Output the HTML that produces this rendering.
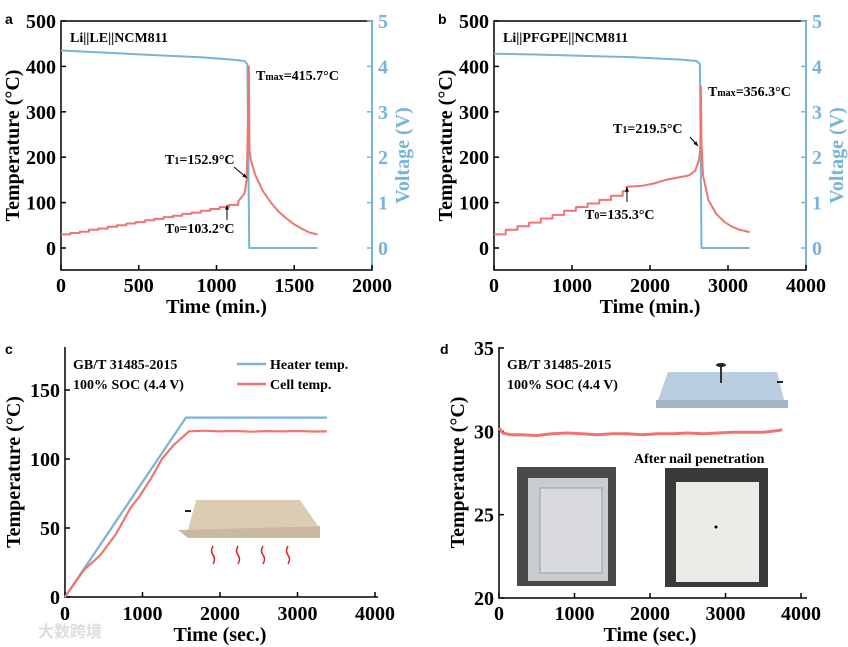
<!DOCTYPE html>
<html><head><meta charset="utf-8">
<style>
body{margin:0;background:#fff;}
svg{display:block;font-family:"Liberation Serif",serif;font-weight:bold;}
.sans{font-family:"Liberation Sans",sans-serif;}
</style></head>
<body>
<svg id="fig" width="848" height="647" viewBox="0 0 848 647" xmlns="http://www.w3.org/2000/svg"></svg>
<script>
// ---- Panel a data ----
const aTempT = [0,60,120,180,240,300,360,420,480,540,600,660,720,780,840,900,960,1020,1080,1140,1180,1195,1203,1208,1212,1220,1250,1300,1350,1400,1450,1500,1550,1600,1650];
const aTempV = [30,33,36,40,43,47,50,54,57,61,64,68,71,75,78,82,86,90,95,103,120,152,300,400,215,195,160,125,100,80,65,52,42,34,30];
const aVoltT = [0,300,600,900,1100,1180,1198,1205,1210,1650];
const aVoltV = [4.35,4.3,4.25,4.2,4.15,4.12,4.05,2.0,0,0];
// ---- Panel b data ----
const bTempT = [0,150,300,450,600,750,900,1050,1200,1350,1500,1650,1700,1900,2050,2200,2350,2500,2580,2630,2645,2652,2660,2680,2750,2850,2950,3050,3150,3280];
const bTempV = [30,40,48,56,65,73,82,90,98,106,115,125,135,137,142,150,155,160,170,195,219,356,230,160,105,75,58,47,40,35];
const bVoltT = [0,600,1200,1800,2400,2600,2640,2650,2660,3280];
const bVoltV = [4.28,4.26,4.23,4.2,4.15,4.12,4.05,2,0,0];
// ---- Panel c data ----
const cHeatT = [0,1560,3380];
const cHeatV = [0,130,130];
const cCellT = [0,250,450,650,850,950,1100,1250,1400,1600,1800,2000,2200,2400,2600,2800,3000,3200,3380];
const cCellV = [0,20,30,45,65,72,85,100,110,120,120.5,120,120.3,119.8,120.2,120,120.3,119.9,120];
// ---- Panel d data ----
const dCellT = [0,50,150,300,500,700,900,1100,1300,1500,1700,1900,2100,2300,2500,2700,2900,3100,3300,3500,3700,3750];
const dCellV = [30.2,29.9,29.8,29.8,29.75,29.85,29.9,29.85,29.8,29.85,29.85,29.8,29.85,29.85,29.9,29.85,29.9,29.95,29.95,29.95,30.05,30.1];

const NS="http://www.w3.org/2000/svg";
const svg=document.getElementById('fig');
function mk(tag,attrs,parent){const e=document.createElementNS(NS,tag);for(const k in attrs)e.setAttribute(k,attrs[k]);(parent||svg).appendChild(e);return e;}
function txt(s,x,y,size,fill,anchor,parent){const t=mk('text',{x:x,y:y,'font-size':size,fill:fill||'#000','text-anchor':anchor||'middle'},parent);t.textContent=s;return t;}
function scale(d0,d1,p0,p1){return v=>p0+(v-d0)*(p1-p0)/(d1-d0);}
function line(xs,ys,sx,sy,color,w,g){let d='';xs.forEach((x,i)=>{d+=(i?'L':'M')+sx(x).toFixed(1)+' '+sy(ys[i]).toFixed(1);});return mk('path',{d:d,fill:'none',stroke:color,'stroke-width':w||2,'stroke-linejoin':'round'},g);}
function stepLine(xs,ys,sx,sy,color,w,g,stepUntil){let d='';xs.forEach((x,i)=>{if(i===0){d+='M'+sx(x)+' '+sy(ys[i]);return;}
 if(x<=stepUntil){d+='H'+sx(x).toFixed(1)+'V'+sy(ys[i]).toFixed(1);}else d+='L'+sx(x).toFixed(1)+' '+sy(ys[i]).toFixed(1);});
 return mk('path',{d:d,fill:'none',stroke:color,'stroke-width':w||2,'stroke-linejoin':'round'},g);}

const RED='#f07470', BLUE='#78b4d6';

function panelAB(cfg){
 const g=mk('g',{});
 
 
 const x0=cfg.x0,x1=cfg.x1,yt=21,yb=270;
 const sx=scale(0,cfg.xmax,x0,x1), sy=scale(0,500,248,21), sv=scale(0,5,248,21);
 mk('rect',{x:x0,y:yt,width:x1-x0,height:yb-yt,fill:'none',stroke:'#000','stroke-width':1.5},g);
 mk('line',{x1:x1,y1:yt,x2:x1,y2:yb,stroke:BLUE,'stroke-width':2},g);
 [0,100,200,300,400,500].forEach(v=>{const y=sy(v);mk('line',{x1:x0,y1:y,x2:x0+5,y2:y,stroke:'#000','stroke-width':1.5},g);txt(String(v),x0-5,y+7,20,'#000','end',g);});
 [0,1,2,3,4,5].forEach(v=>{const y=sv(v);mk('line',{x1:x1-5,y1:y,x2:x1,y2:y,stroke:BLUE,'stroke-width':1.5},g);txt(String(v),x1+6,y+7,20,BLUE,'start',g);});
 cfg.xt.forEach(v=>{const x=sx(v);mk('line',{x1:x,y1:yb,x2:x,y2:yb-5,stroke:'#000','stroke-width':1.5},g);txt(String(v),x,yb+22,20,'#000','middle',g);});
 txt(cfg.xlabel,(x0+x1)/2,yb+43,20,'#000','middle',g);
 const yl=txt('Temperature (°C)',0,0,20,'#000','middle',g);yl.setAttribute('transform',`translate(${x0-42},${(yt+yb)/2}) rotate(-90)`);
 const vl=txt('Voltage (V)',0,0,20,BLUE,'middle',g);vl.setAttribute('transform',`translate(${x1+37},${(yt+yb)/2+10}) rotate(-90)`);
 line(cfg.vT,cfg.vV,sx,sv,BLUE,2,g);
 stepLine(cfg.tT,cfg.tV,sx,sy,RED,2,g,cfg.stepUntil);
 txt(cfg.title,x0+9,yt+21,14,'#000','start',g);
 cfg.ann(g,sx,sy);
 txt(cfg.letter,x0-56,yt+3,14,'#000','start',g).setAttribute('class','sans');
 return g;
}
function arrow(g,x1,y1,x2,y2){mk('line',{x1:x1,y1:y1,x2:x2,y2:y2,stroke:'#000','stroke-width':1},g);
 const a=Math.atan2(y2-y1,x2-x1),L=5;mk('path',{d:`M${x2} ${y2}L${x2-L*Math.cos(a-0.4)} ${y2-L*Math.sin(a-0.4)}L${x2-L*Math.cos(a+0.4)} ${y2-L*Math.sin(a+0.4)}Z`,fill:'#000'},g);}
function sub(g,main,subs,rest,x,y){const t=mk('text',{x:x,y:y,'font-size':14,fill:'#000'},g);
 const a=mk('tspan',{},t);a.textContent=main;const b=mk('tspan',{'font-size':10},t);b.textContent=subs;const c=mk('tspan',{'font-size':14},t);c.textContent=rest;return t;}

panelAB({name:'panel-a',letter:'a',x0:61,x1:372,xmax:2000,xt:[0,500,1000,1500,2000],xlabel:'Time (min.)',title:'Li||LE||NCM811',
 tT:aTempT,tV:aTempV,vT:aVoltT,vV:aVoltV,stepUntil:1150,
 ann:(g,sx,sy)=>{sub(g,'T','max','=415.7°C',256,80);sub(g,'T','1','=152.9°C',165,164);sub(g,'T','0','=103.2°C',165,233);
  arrow(g,234,167,247,178);arrow(g,227,220,227,205);}});
panelAB({name:'panel-b',letter:'b',x0:494,x1:806,xmax:4000,xt:[0,1000,2000,3000,4000],xlabel:'Time (min.)',title:'Li||PFGPE||NCM811',
 tT:bTempT,tV:bTempV,vT:bVoltT,vV:bVoltV,stepUntil:1700,
 ann:(g,sx,sy)=>{sub(g,'T','max','=356.3°C',708,96);sub(g,'T','1','=219.5°C',613,133);sub(g,'T','0','=135.3°C',585,219);
  arrow(g,690,137,698,146);arrow(g,627,202,627,187);}});

(function(){
 const g=mk('g',{});
 
 
 const x0=65,x1=375,yt=347,yb=597;
 const sx=scale(0,4000,x0,x1), sy=scale(0,150,597,390);
 mk('path',{d:`M${x0} ${yt}V${yb}H${x1+3}`,fill:'none',stroke:'#000','stroke-width':1.5},g);
 [0,50,100,150].forEach(v=>{const y=sy(v);mk('line',{x1:x0,y1:y,x2:x0+5,y2:y,stroke:'#000','stroke-width':1.5},g);txt(String(v),x0-5,y+7,20,'#000','end',g);});
 [0,1000,2000,3000,4000].forEach(v=>{const x=sx(v);mk('line',{x1:x,y1:yb,x2:x,y2:yb-5,stroke:'#000','stroke-width':1.5},g);txt(String(v),x,yb+23,20,'#000','middle',g);});
 txt('Time (sec.)',(x0+x1)/2,yb+44,20,'#000','middle',g);
 const yl=txt('Temperature (°C)',0,0,20,'#000','middle',g);yl.setAttribute('transform',`translate(${x0-45},${(yt+yb)/2}) rotate(-90)`);
 line(cHeatT,cHeatV,sx,sy,BLUE,2.2,g);
 line(cCellT,cCellV,sx,sy,RED,2.2,g);
 txt('GB/T 31485-2015',73,369,14,'#000','start',g);
 txt('100% SOC (4.4 V)',73,389,14,'#000','start',g);
 const le=mk('g',{},g);
 mk('line',{x1:237,y1:364,x2:266,y2:364,stroke:BLUE,'stroke-width':2.5},le);txt('Heater temp.',270,369,14,'#000','start',le);
 mk('line',{x1:237,y1:384,x2:266,y2:384,stroke:RED,'stroke-width':2.5},le);txt('Cell temp.',270,389,14,'#000','start',le);
 const ins=mk('g',{},g);
 mk('path',{d:'M196 500L300 500L318 526L188 530Z',fill:'#dcccb4'},ins);
 mk('path',{d:'M178 530L320 526L320 538L188 538Z',fill:'#c9b9a0'},ins);
 mk('rect',{x:185,y:510,width:6,height:2,fill:'#222'},ins);
 [213,238,263,288].forEach(x=>mk('path',{d:`M${x} 546q-3 5 0 9t0 9`,fill:'none',stroke:'#e02020','stroke-width':1.5},ins));
 txt('c',5,354,14,'#000','start',g).setAttribute('class','sans');
 const wm=txt('大数跨境',38,637,16,'#ddd','start',g);wm.setAttribute('font-family','"Noto Sans CJK SC",sans-serif');
})();

(function(){
 const g=mk('g',{});
 
 
 const x0=499,x1=801,yt=347,yb=598;
 const sx=scale(0,4000,x0,x1), sy=scale(20,35,598,348);
 const ins=mk('g',{},g);
 mk('path',{d:'M668 372L777 372L784 400L658 400Z',fill:'#b8cde0'},ins);
 mk('path',{d:'M656 400L788 400L788 408L656 408Z',fill:'#a3b6c8'},ins);
 mk('rect',{x:720,y:365,width:2,height:18,fill:'#333'},ins);mk('ellipse',{cx:721,cy:365,rx:5,ry:2,fill:'#222'},ins);
 mk('rect',{x:777,y:381,width:6,height:2,fill:'#222'},ins);
 const p1=mk('g',{},g);
 mk('rect',{x:517,y:467,width:99,height:119,fill:'#4a4a48'},p1);
 mk('rect',{x:528,y:478,width:80,height:103,fill:'#c9ccd0'},p1);
 mk('rect',{x:540,y:488,width:62,height:85,fill:'#d8dade',stroke:'#9a9ea4'},p1);
 const p2=mk('g',{},g);
 mk('rect',{x:665,y:468,width:103,height:119,fill:'#3a3a3a'},p2);
 mk('rect',{x:676,y:482,width:83,height:100,fill:'#ecebe8'},p2);
 mk('circle',{cx:716,cy:527,r:1.5,fill:'#000'},p2);
 txt('After nail penetration',634,463,14,'#000','start',g);
 mk('path',{d:`M${x0} ${yt}V${yb}H${x1+6}`,fill:'none',stroke:'#000','stroke-width':1.5},g);
 [20,25,30,35].forEach(v=>{const y=sy(v);mk('line',{x1:x0,y1:y,x2:x0+5,y2:y,stroke:'#000','stroke-width':1.5},g);txt(String(v),x0-5,y+7,20,'#000','end',g);});
 [0,1000,2000,3000,4000].forEach(v=>{const x=sx(v);mk('line',{x1:x,y1:yb,x2:x,y2:yb-5,stroke:'#000','stroke-width':1.5},g);txt(String(v),x,yb+22,20,'#000','middle',g);});
 txt('Time (sec.)',(x0+x1)/2,yb+43,20,'#000','middle',g);
 const yl=txt('Temperature (°C)',0,0,20,'#000','middle',g);yl.setAttribute('transform',`translate(${x0-35},${(yt+yb)/2}) rotate(-90)`);
 line(dCellT,dCellV,sx,sy,RED,3,g);
 txt('GB/T 31485-2015',507,369,14,'#000','start',g);
 txt('100% SOC (4.4 V)',507,389,14,'#000','start',g);
 txt('d',440,354,14,'#000','start',g).setAttribute('class','sans');
})();
</script>
</body></html>
